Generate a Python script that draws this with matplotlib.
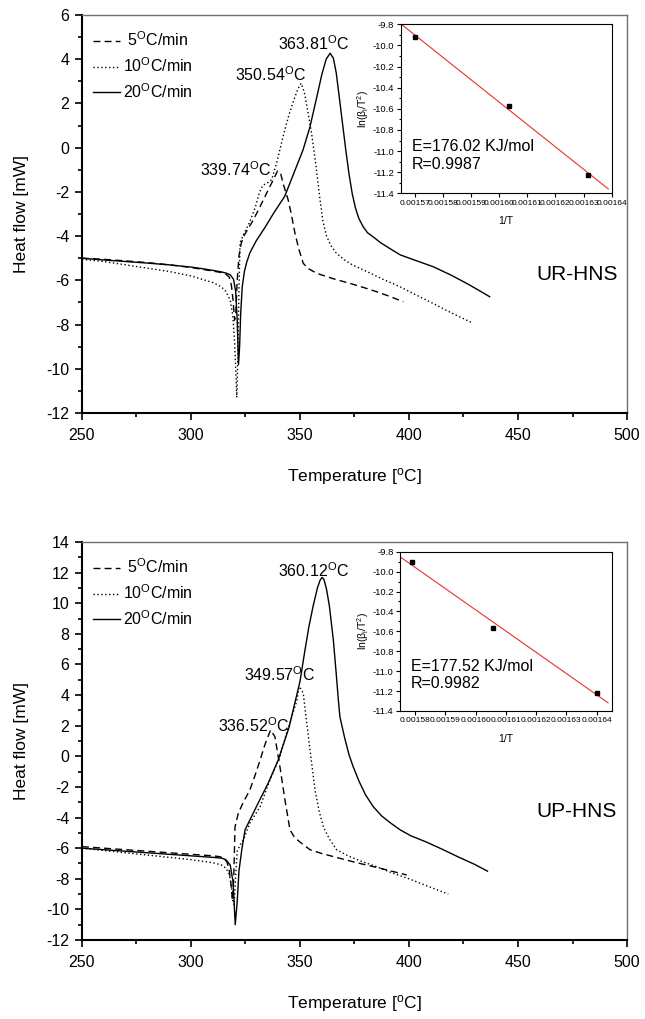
import numpy as np
import matplotlib
matplotlib.use('Agg')
import matplotlib.pyplot as plt
from matplotlib.ticker import MultipleLocator, FixedLocator, FormatStrFormatter

plt.rcParams['font.family'] = ['Liberation Sans', 'DejaVu Sans']
plt.rcParams['mathtext.fontset'] = 'custom'
plt.rcParams['mathtext.rm'] = 'Liberation Sans'
plt.rcParams['mathtext.it'] = 'Liberation Sans:italic'
plt.rcParams['axes.unicode_minus'] = False

# ---- UR-HNS DSC curves ----
ur_5_T = [250, 260, 270, 280, 290, 300, 305, 310, 314, 316, 317.5, 318.5, 319.3, 320.0, 320.6,
          321.2, 322.0, 323.0, 324.0, 326, 328.6, 331.5, 334.7, 337.5, 339.74, 341.2, 342.5,
          343.6, 344.6, 346, 347.7, 349.5, 351.5, 353.5, 357.6, 365, 373, 380, 385, 391, 397.4]
ur_5_hf = [-5.0, -5.05, -5.12, -5.2, -5.3, -5.42, -5.5, -5.58, -5.65, -5.72, -5.85, -6.2, -6.9,
           -7.8, -7.4, -6.0, -4.9, -4.35, -4.03, -3.7, -3.27, -2.7, -2.06, -1.5, -1.05, -1.2,
           -1.7, -2.05, -2.37, -3.0, -3.87, -4.6, -5.23, -5.45, -5.68, -5.92, -6.14, -6.35,
           -6.51, -6.72, -6.97]

ur_10_T = [250, 260, 270, 280, 290, 300, 305, 310, 314, 316, 318, 319.2, 320.0, 320.6, 321.0,
           321.5, 322.0, 322.5, 324, 327, 329.5, 331.5, 333, 335, 337, 339, 341, 343, 345, 347,
           349, 350.54, 352, 353.5, 355.3, 357.3, 359.2, 360.5, 362, 364, 366.5, 370, 374,
           380.6, 388, 395.9, 403, 411, 420, 429.4]
ur_10_hf = [-5.05, -5.15, -5.3, -5.45, -5.6, -5.8, -5.95, -6.1, -6.3, -6.5, -6.9, -7.6, -8.8,
            -10.2, -11.3, -9.5, -6.5, -4.3, -3.95, -3.35, -2.7, -2.0, -1.7, -1.6, -1.45, -0.8,
            0.0, 0.8, 1.5, 2.1, 2.65, 2.91, 2.5, 1.7, 0.65, -0.8, -2.37, -3.3, -3.95, -4.4,
            -4.75, -5.05, -5.3, -5.6, -5.95, -6.29, -6.65, -7.04, -7.5, -7.94]

ur_20_T = [250, 260, 270, 280, 290, 300, 305, 310, 314, 316, 318, 319.5, 320.5, 321.2, 321.8,
           322.3, 322.8, 323.5, 324.5, 325.5, 327, 330, 334, 338, 343, 347, 351.4, 354.6,
           357.5, 360, 362, 363.81, 365.3, 366.6, 368, 369.5, 371, 372.5, 374, 375.5, 377,
           379, 381, 383.5, 387, 391, 396, 403, 411, 419, 426.5, 432, 437]
ur_20_hf = [-5.0, -5.08, -5.15, -5.22, -5.3, -5.4, -5.47, -5.55, -5.62, -5.67, -5.75, -5.95,
            -6.5, -7.8, -9.8, -9.0, -7.5, -6.3, -5.6, -5.2, -4.76, -4.2, -3.6, -2.95, -2.2,
            -1.2, -0.1, 0.95, 2.2, 3.3, 4.0, 4.27, 4.05, 3.4, 2.3, 1.1, -0.1, -1.2, -2.1,
            -2.75, -3.2, -3.58, -3.85, -4.03, -4.3, -4.55, -4.85, -5.1, -5.38, -5.75, -6.14,
            -6.45, -6.74]

# ---- UP-HNS DSC curves ----
up_5_T = [250, 260, 270, 280, 290, 300, 305, 310, 313, 315, 316.5, 317.5, 318.3, 319.0, 319.6,
          320.2, 321.7, 324, 327, 329.5, 331.7, 334, 336.52, 338.5, 340.8, 343.1, 345.4, 347.5,
          350, 354.6, 360, 368, 376, 385, 392, 399]
up_5_hf = [-5.9, -6.0, -6.1, -6.2, -6.3, -6.4, -6.45, -6.5, -6.55, -6.65, -6.9, -7.4, -8.3,
           -9.4, -8.0, -4.6, -3.72, -3.0, -2.2, -1.2, -0.24, 0.8, 1.72, 1.28, -0.68, -2.85,
           -4.8, -5.3, -5.6, -6.1, -6.35, -6.65, -6.95, -7.25, -7.5, -7.75]

up_10_T = [250, 260, 270, 280, 290, 300, 305, 310, 314, 316, 317.5, 318.5, 319.2, 319.8, 320.4,
           321.2, 322.5, 324, 327, 331.7, 336.2, 340.8, 344, 346.5, 348.5, 349.57, 350.5,
           351.5, 353, 354.6, 356.9, 358.8, 360.7, 363.5, 366.8, 372, 378, 385, 392, 400,
           408, 418]
up_10_hf = [-6.0, -6.15, -6.3, -6.45, -6.6, -6.75, -6.85, -6.95, -7.1, -7.3, -7.7, -8.4, -9.5,
            -9.7, -8.0, -6.2, -5.8, -5.46, -4.37, -3.29, -1.55, -0.02, 1.6, 2.7, 3.6, 4.55,
            4.4, 4.12, 2.3, 0.41, -2.2, -3.6, -4.6, -5.4, -6.1, -6.5, -6.85, -7.2, -7.6, -8.0,
            -8.45, -9.0]

up_20_T = [250, 260, 270, 280, 290, 300, 305, 310, 314, 316, 318, 319.3, 320.3, 321.2, 322.0,
           323.3, 324.8, 327, 331, 335.4, 340, 345, 350, 352.3, 354, 356, 358, 359.2, 360.12,
           361, 362.2, 363.5, 365.3, 366.5, 367.6, 368.3, 370.5, 372.5, 374.4, 377, 380,
           383.6, 387.5, 391.5, 395.9, 401, 408, 415.7, 423, 430, 436]
up_20_hf = [-6.0, -6.1, -6.2, -6.3, -6.4, -6.5, -6.55, -6.6, -6.65, -6.75, -7.1, -8.2, -11.0,
            -9.5, -7.5, -6.1, -4.8, -4.16, -3.0, -1.76, -0.24, 1.9, 4.9, 6.95, 8.4, 9.8, 11.0,
            11.5, 11.69, 11.55, 10.9, 9.8, 7.6, 5.6, 3.68, 2.59, 1.2, 0.1, -0.68, -1.6, -2.5,
            -3.29, -3.9, -4.35, -4.8, -5.2, -5.6, -6.1, -6.6, -7.05, -7.5]

rate_labels = [' 5$^{\\mathregular{O}}$C/min', '10$^{\\mathregular{O}}$C/min',
               '20$^{\\mathregular{O}}$C/min']

# peak labels: text, x, y
ur_peaks = [('339.74$^{\\mathregular{O}}$C', 320.6, -1.3),
            ('350.54$^{\\mathregular{O}}$C', 336.7, 3.0),
            ('363.81$^{\\mathregular{O}}$C', 356.0, 4.4)]
up_peaks = [('336.52$^{\\mathregular{O}}$C', 328.7, 1.6),
            ('349.57$^{\\mathregular{O}}$C', 340.4, 4.9),
            ('360.12$^{\\mathregular{O}}$C', 356.0, 11.7)]

# ---- Kissinger plots ----
ur_invT = [0.0015700, 0.0016034, 0.0016316]
ur_lnb = [-9.918, -10.569, -11.227]
up_invT = [0.0015791, 0.0016058, 0.0016402]
up_lnb = [-9.906, -10.566, -11.216]

ur_xticks = [0.00157, 0.00158, 0.00159, 0.00160, 0.00161, 0.00162, 0.00163, 0.00164]
up_xticks = [0.00158, 0.00159, 0.00160, 0.00161, 0.00162, 0.00163, 0.00164]
ln_ticks = [-11.4, -11.2, -11.0, -10.8, -10.6, -10.4, -10.2, -10.0, -9.8]


def style_main(ax, ymin, ymax):
    """Axis look of the DSC panels."""
    ax.set_xlim(250, 500)
    ax.set_ylim(ymin, ymax)
    ax.xaxis.set_major_locator(MultipleLocator(50))
    ax.xaxis.set_minor_locator(MultipleLocator(25))
    ax.yaxis.set_major_locator(MultipleLocator(2))
    ax.yaxis.set_minor_locator(MultipleLocator(1))
    ax.tick_params(which='both', direction='out', top=False, right=False, width=1.2)
    ax.tick_params(which='major', length=5, labelsize=11.5, pad=4)
    ax.tick_params(which='minor', length=3)
    ax.tick_params(axis='x', which='major', pad=6)
    for s in ['left', 'bottom']:
        ax.spines[s].set_linewidth(1.5)
        ax.spines[s].set_color('black')
    for s in ['top', 'right']:
        ax.spines[s].set_linewidth(1.0)
        ax.spines[s].set_color('#707070')
    ax.set_ylabel('Heat flow [mW]', fontsize=12.5)
    ax.yaxis.set_label_coords(-0.098, 0.5)
    ax.set_xlabel('Temperature [$^{\\mathregular{o}}$C]', fontsize=12.5)
    ax.xaxis.set_label_coords(0.5, -0.133)


def plot_dsc(ax, curves, peaks, name, ymin, ymax):
    """Three heating rates, peak labels, sample name."""
    styles = [(0, (5, 3)), (0, (1, 1.8)), '-']
    for (T, hf), ls, lab in zip(curves, styles, rate_labels):
        ax.plot(T, hf, color='black', linestyle=ls, linewidth=1.0, label=lab)
    for txt, x, y in peaks:
        ax.text(x, y, txt, fontsize=11.5, ha='center', va='baseline')
    ax.text(0.908, 0.335 if ymax == 6 else 0.31, name, transform=ax.transAxes,
            fontsize=15, ha='center', va='baseline')
    ax.legend(loc='upper left', bbox_to_anchor=(0.003, 0.985), frameon=False,
              fontsize=11.5, handlelength=1.7, handletextpad=0.15,
              labelspacing=0.45, borderaxespad=0.2)
    style_main(ax, ymin, ymax)


def plot_kissinger(ax, x, y, xticks, xlim, energy, r):
    """Inset with ln(beta/T^2) against 1/T and its linear fit."""
    k, b = np.polyfit(x, y, 1)
    fx = np.array([xlim[0], xlim[1] - 0.0000012])
    ax.plot(fx, k * fx + b, color='#e8322a', linewidth=0.8)
    ax.plot(x, y, 's', color='black', markersize=3.2)
    ax.set_xlim(*xlim)
    ax.set_ylim(-11.4, -9.8)
    ax.xaxis.set_major_locator(FixedLocator(xticks))
    ax.xaxis.set_major_formatter(FormatStrFormatter('%.5f'))
    ax.yaxis.set_major_locator(FixedLocator(ln_ticks))
    ax.yaxis.set_major_formatter(FormatStrFormatter('%.1f'))
    ax.yaxis.set_minor_locator(MultipleLocator(0.1))
    ax.tick_params(which='both', direction='out', top=False, right=False, width=0.8,
                   labelsize=6.8, pad=1.5)
    ax.tick_params(axis='x', labelsize=6.0)
    ax.tick_params(which='major', length=3)
    ax.tick_params(which='minor', length=1.8)
    for s in ax.spines.values():
        s.set_linewidth(0.8)
    ax.set_xlabel('1/T', fontsize=7.5, labelpad=7)
    ax.set_ylabel('ln($\\mathregular{\u03b2_i/T^2}$)', fontsize=7.5, labelpad=1)
    ax.text(0.053, 0.25, 'E=%s KJ/mol' % energy, transform=ax.transAxes,
            fontsize=11.5, ha='left', va='baseline')
    ax.text(0.053, 0.145, 'R=%s' % r, transform=ax.transAxes,
            fontsize=11.5, ha='left', va='baseline')


fig = plt.figure(figsize=(6.45, 10.19), dpi=100)
ax1 = fig.add_axes([0.1271, 0.5947, 0.8450, 0.3906])
ax2 = fig.add_axes([0.1271, 0.0775, 0.8450, 0.3906])
ins1 = fig.add_axes([0.6212, 0.8103, 0.3271, 0.1658])
ins2 = fig.add_axes([0.6202, 0.3023, 0.3282, 0.1563])

plot_dsc(ax1, [(ur_5_T, ur_5_hf), (ur_10_T, ur_10_hf), (ur_20_T, ur_20_hf)],
         ur_peaks, 'UR-HNS', -12, 6)
plot_dsc(ax2, [(up_5_T, up_5_hf), (up_10_T, up_10_hf), (up_20_T, up_20_hf)],
         up_peaks, 'UP-HNS', -12, 14)
plot_kissinger(ins1, ur_invT, ur_lnb, ur_xticks, (0.001565, 0.00164), '176.02', '0.9987')
plot_kissinger(ins2, up_invT, up_lnb, up_xticks, (0.001575, 0.001645), '177.52', '0.9982')

fig.savefig('out.png', dpi=100)
